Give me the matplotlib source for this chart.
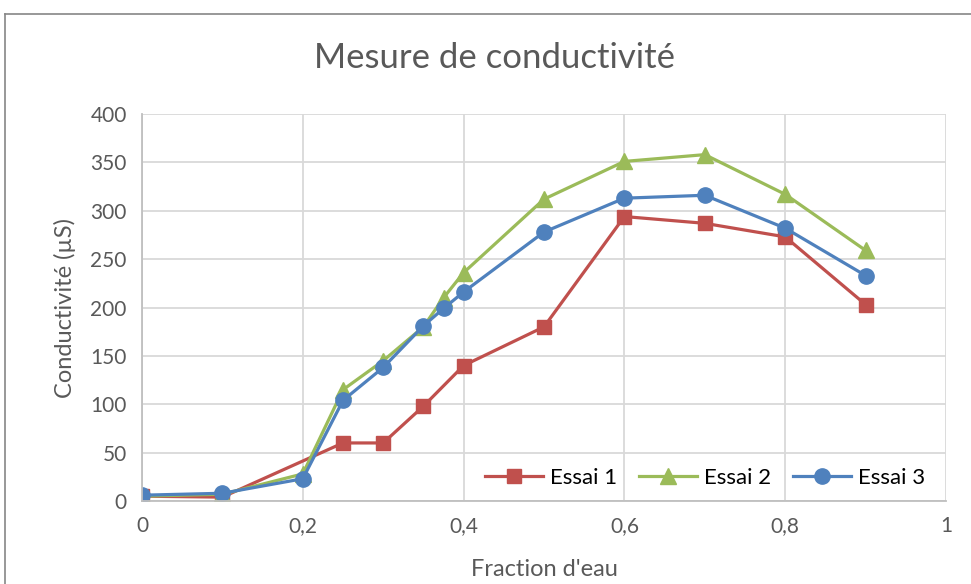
import matplotlib.pyplot as plt
from matplotlib.lines import Line2D
from matplotlib.ticker import FuncFormatter

x1 = [0, 0.1, 0.25, 0.3, 0.35, 0.4, 0.5, 0.6, 0.7, 0.8, 0.9]
essai1 = [5, 4, 60, 60, 98, 140, 180, 294, 287, 273, 203]

x23 = [0, 0.1, 0.2, 0.25, 0.3, 0.35, 0.375, 0.4, 0.5, 0.6, 0.7, 0.8, 0.9]
essai2 = [5, 7, 28, 115, 145, 180, 210, 236, 312, 351, 358, 317, 259]
essai3 = [6, 8, 23, 104, 138, 181, 199, 216, 278, 313, 316, 282, 233]

plt.rcParams['font.family'] = ['Lato', 'DejaVu Sans']

fig = plt.figure(figsize=(9.71, 5.84), dpi=100)
ax = fig.add_axes([142 / 971, 1 - 501 / 584, 804 / 971, 387 / 584])

ax.plot(x1, essai1, color='#C0504D', marker='s', markersize=10, lw=2.3, label='Essai 1')
ax.plot(x23, essai2, color='#9BBB59', marker='^', markersize=11, lw=2.3, label='Essai 2')
ax.plot(x23, essai3, color='#4F81BD', marker='o', markersize=11, lw=2.3, label='Essai 3')

ax.set_xlim(0, 1)
ax.set_ylim(0, 400)
ax.set_xticks([0, 0.2, 0.4, 0.6, 0.8, 1])
ax.set_yticks(range(0, 401, 50))
ax.xaxis.set_major_formatter(FuncFormatter(lambda v, p: f"{v:g}".replace('.', ',')))
ax.grid(True, color='#D9D9D9', lw=1.3)
ax.set_axisbelow(True)
for s in ['top', 'right']:
    ax.spines[s].set_visible(False)
for s in ['left', 'bottom']:
    ax.spines[s].set_color('#BFBFBF')
    ax.spines[s].set_linewidth(1.3)
ax.tick_params(length=0, labelsize=15, colors='#595959', pad=11)

# title is centred on the whole chart, not on the plot area
fig.text(494 / 971, 1 - 58 / 584, 'Mesure de conductivité', fontsize=25,
         color='#595959', ha='center', va='center')
ax.set_xlabel("Fraction d'eau", fontsize=17, color='#595959', labelpad=16)
ax.set_ylabel('Conductivité (µS)', fontsize=17, color='#595959', labelpad=10)

ax.legend(loc='lower right', ncol=3, frameon=False, fontsize=16, handlelength=2.6,
          columnspacing=1.0, handletextpad=0.3, borderaxespad=0.2,
          bbox_to_anchor=(0.99, 0))

# chart frame (cropped on the right and bottom)
fig.add_artist(Line2D([5 / 971, 5 / 971], [0, 1 - 14 / 584], color='#868686', lw=1.2))
fig.add_artist(Line2D([5 / 971, 1], [1 - 14 / 584, 1 - 14 / 584], color='#868686', lw=1.2))

fig.savefig('out.png', dpi=100)
